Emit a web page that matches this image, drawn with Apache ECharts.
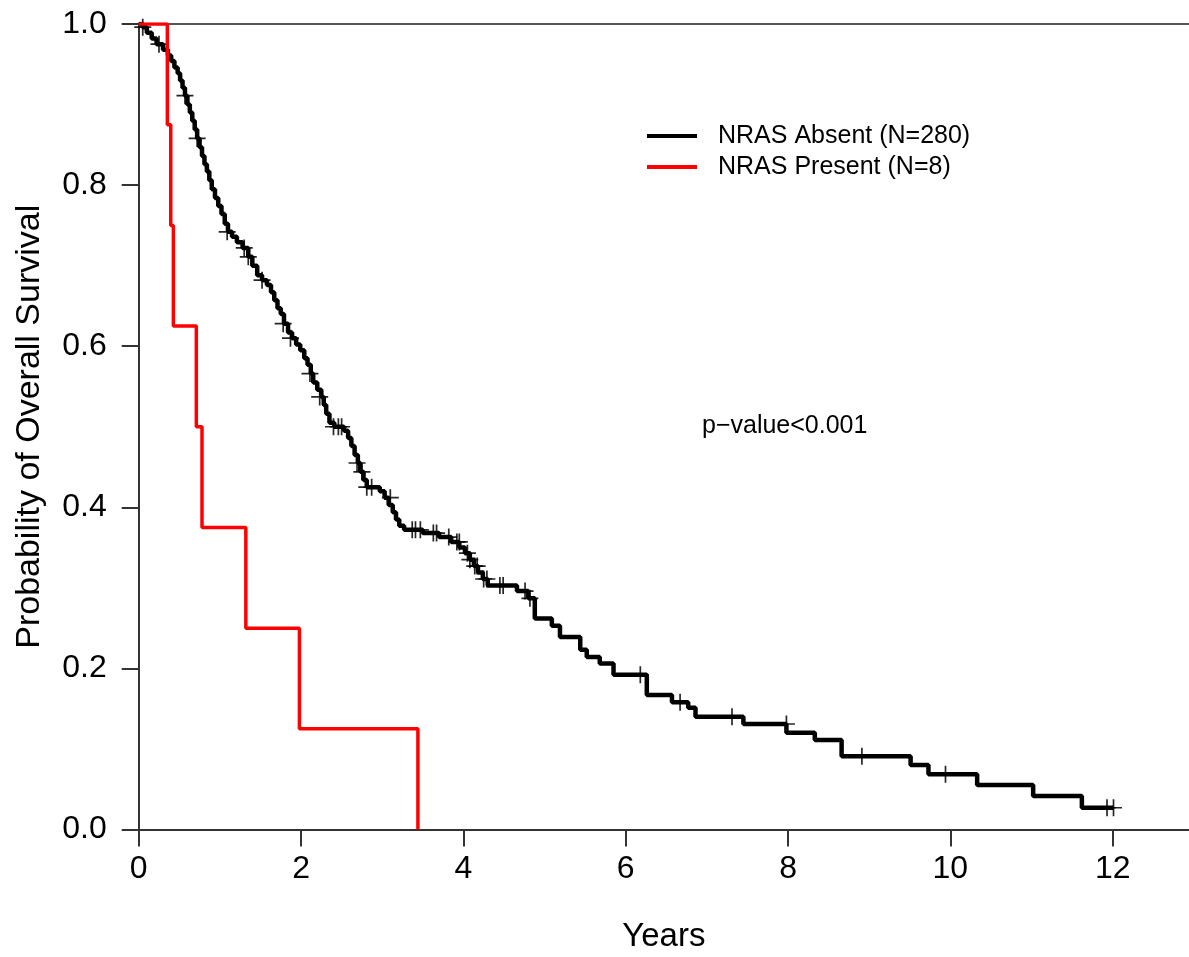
<!DOCTYPE html>
<html>
<head>
<meta charset="utf-8">
<title>NRAS overall survival</title>
<script src="https://cdn.jsdelivr.net/npm/echarts@6/dist/echarts.min.js"></script>
<style>
  html, body { margin: 0; padding: 0; background: #fff; }
  #chart { width: 1189px; height: 957px; }
</style>
</head>
<body>
<div id="chart"></div>
<script>
// Kaplan-Meier steps (years, survival probability)
var absentTimes = [0, 0.05, 0.10, 0.16, 0.22, 0.30, 0.36, 0.40, 0.44, 0.48, 0.51, 0.54, 0.57, 0.60, 0.63, 0.66, 0.69, 0.72, 0.75, 0.78,
  0.81, 0.84, 0.87, 0.90, 0.94, 0.98, 1.02, 1.06, 1.10, 1.15, 1.21, 1.28, 1.35, 1.40, 1.46, 1.52, 1.58, 1.63, 1.67, 1.71,
  1.75, 1.79, 1.84, 1.89, 1.94, 1.99, 2.04, 2.08, 2.12, 2.15, 2.20, 2.25, 2.28, 2.31, 2.35, 2.41, 2.53, 2.58, 2.62, 2.66,
  2.70, 2.73, 2.77, 2.81, 2.97, 3.03, 3.08, 3.13, 3.17, 3.21, 3.27, 3.50, 3.70, 3.85, 3.95, 4.02, 4.08, 4.13, 4.18, 4.24,
  4.30, 4.66, 4.80, 4.88, 5.09, 5.19, 5.44, 5.52, 5.68, 5.85, 6.26, 6.57, 6.77, 6.86, 7.45, 7.98, 8.33, 8.66, 9.51, 9.73,
  10.33, 11.02, 11.62, 12.01]
var absentSurv = [1.000, 0.996, 0.989, 0.982, 0.975, 0.968, 0.961, 0.954, 0.946, 0.939, 0.930, 0.921, 0.911, 0.900, 0.890, 0.880, 0.869, 0.858, 0.847, 0.836,
  0.826, 0.817, 0.806, 0.795, 0.784, 0.774, 0.764, 0.752, 0.742, 0.736, 0.729, 0.722, 0.711, 0.700, 0.688, 0.682, 0.676, 0.667, 0.657, 0.647,
  0.640, 0.628, 0.617, 0.610, 0.602, 0.595, 0.585, 0.577, 0.566, 0.555, 0.546, 0.537, 0.527, 0.516, 0.505, 0.500, 0.495, 0.486, 0.476, 0.465,
  0.455, 0.444, 0.434, 0.425, 0.420, 0.412, 0.403, 0.394, 0.385, 0.377, 0.372, 0.368, 0.363, 0.357, 0.350, 0.343, 0.335, 0.327, 0.319, 0.311,
  0.303, 0.296, 0.287, 0.262, 0.253, 0.239, 0.223, 0.214, 0.206, 0.192, 0.167, 0.158, 0.151, 0.140, 0.131, 0.120, 0.111, 0.091, 0.080, 0.0685,
  0.0553, 0.0416, 0.027, 0.027]

var presentTimes = [0, 0.353, 0.395, 0.427, 0.71, 0.78, 1.32, 1.98, 3.44]
var presentSurv = [1.0, 0.875, 0.75, 0.625, 0.5, 0.375, 0.25, 0.125, 0.0]

// censoring marks ("+") on the NRAS absent curve
var censorTimes = [0.05, 0.25, 0.57, 0.72, 1.09, 1.30, 1.35, 1.52, 1.78, 1.87, 2.11, 2.23, 2.40, 2.46, 2.50, 2.69, 2.75, 2.81, 2.87, 3.10,
  3.37, 3.41, 3.47, 3.63, 3.67, 3.82, 3.92, 3.95, 4.05, 4.08, 4.14, 4.17, 4.25, 4.29, 4.45, 4.49, 4.76, 4.82, 6.18, 6.67,
  7.31, 7.98, 8.91, 9.94, 11.93, 12.01]
var censorSurv = [0.996, 0.975, 0.911, 0.858, 0.742, 0.722, 0.711, 0.682, 0.628, 0.610, 0.566, 0.537, 0.500, 0.500, 0.500, 0.455, 0.444, 0.425, 0.425, 0.412,
  0.372, 0.372, 0.372, 0.368, 0.368, 0.363, 0.357, 0.357, 0.343, 0.335, 0.327, 0.327, 0.311, 0.311, 0.303, 0.303, 0.296, 0.287, 0.192, 0.158,
  0.140, 0.131, 0.091, 0.0685, 0.027, 0.027]

var xTicks = [0, 2, 4, 6, 8, 10, 12]
var seriesNames = ['NRAS Absent (N=280)', 'NRAS Present (N=8)']
var pValueText = 'p\u2212value<0.001'

var FONT = '"Liberation Sans", Arial, Helvetica, sans-serif'
var AXIS_COLOR = '#333'

function pairs(xs, ys) {
  return xs.map(function (x, i) { return [x, ys[i]] })
}

var chart = echarts.init(document.getElementById('chart'), null, { renderer: 'canvas' })

chart.setOption({
  animation: false,
  backgroundColor: '#fff',
  textStyle: { fontFamily: FONT },
  grid: { left: 138.7, right: 0, top: 24, bottom: 127.5, outerBoundsMode: 'none' },
  legend: {
    orient: 'vertical',
    left: 642,
    top: 117,
    itemWidth: 50,
    itemHeight: 4,
    itemGap: 3,
    icon: 'rect',
    data: seriesNames,
    textStyle: { fontSize: 25, color: '#000', fontFamily: FONT, lineHeight: 28, padding: [0, 0, 0, 16] }
  },
  xAxis: [{
    type: 'value',
    min: 0,
    max: 12.94,
    name: 'Years',
    nameLocation: 'middle',
    nameGap: 91,
    nameTextStyle: { fontSize: 33, color: '#000', fontFamily: FONT },
    axisLine: { show: true, lineStyle: { color: AXIS_COLOR, width: 2 } },
    axisTick: { show: true, length: 17, lineStyle: { color: AXIS_COLOR, width: 2 }, customValues: xTicks },
    axisLabel: { fontSize: 32, color: '#000', margin: 24, fontFamily: FONT, customValues: xTicks },
    splitLine: { show: false }
  }, {
    type: 'value',
    position: 'top',
    min: 0,
    max: 12.94,
    axisLine: { show: true, lineStyle: { color: '#555', width: 2 } },
    axisTick: { show: false },
    axisLabel: { show: false },
    splitLine: { show: false }
  }],
  yAxis: {
    type: 'value',
    min: 0,
    max: 1,
    interval: 0.2,
    name: 'Probability of Overall Survival',
    nameLocation: 'middle',
    nameGap: 92,
    nameTextStyle: { fontSize: 34, color: '#000', fontFamily: FONT },
    axisLine: { show: true, lineStyle: { color: AXIS_COLOR, width: 2 } },
    axisTick: { show: true, length: 17, lineStyle: { color: AXIS_COLOR, width: 2 } },
    axisLabel: {
      fontSize: 32, color: '#000', margin: 32, fontFamily: FONT,
      formatter: function (v) { return v.toFixed(1) }
    },
    splitLine: { show: false }
  },
  graphic: [{
    type: 'text',
    style: { x: 702, y: 426, text: pValueText, font: '25px ' + FONT, fill: '#000', verticalAlign: 'middle' }
  }],
  series: [{
    name: seriesNames[0],
    type: 'line',
    step: 'end',
    symbol: 'none',
    color: '#000',
    lineStyle: { color: '#000', width: 4.5 },
    data: pairs(absentTimes, absentSurv),
    z: 2
  }, {
    name: 'censored',
    type: 'scatter',
    symbol: 'path://M0,7.2 L16,7.2 L16,8.8 L0,8.8 Z M7.2,0 L8.8,0 L8.8,16 L7.2,16 Z',
    symbolSize: 17,
    itemStyle: { color: '#000', opacity: 0.85 },
    data: pairs(censorTimes, censorSurv),
    z: 3
  }, {
    name: seriesNames[1],
    type: 'line',
    step: 'end',
    symbol: 'none',
    color: '#ff0000',
    lineStyle: { color: '#ff0000', width: 3.5 },
    data: pairs(presentTimes, presentSurv),
    z: 4
  }]
})
</script>
</body>
</html>
